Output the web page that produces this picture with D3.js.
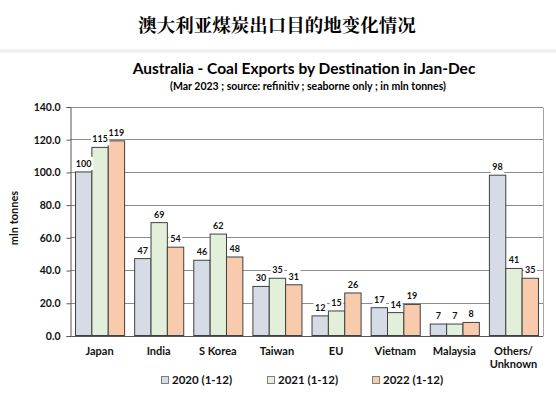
<!DOCTYPE html>
<html>
<head>
<meta charset="utf-8">
<script src="https://cdn.jsdelivr.net/npm/d3@7"></script>
<style>
  html, body { margin: 0; padding: 0; background: #fff; }
  svg { display: block; }
  text { font-family: Lato, "Open Sans", "Liberation Sans", sans-serif; font-weight: 700; fill: #111; }
</style>
</head>
<body>
<svg id="chart" width="556" height="396"></svg>
<script>
const pageTitle = "澳大利亚煤炭出口目的地变化情况";
const chartTitle = "Australia - Coal Exports by Destination in Jan-Dec";
const chartSubtitle = "(Mar 2023 ; source: refinitiv ; seaborne only ; in mln tonnes)";
const yLabel = "mln tonnes";
const categories = ["Japan", "India", "S Korea", "Taiwan", "EU", "Vietnam", "Malaysia", "Others/\nUnknown"];
const seriesNames = ["2020 (1-12)", "2021 (1-12)", "2022 (1-12)"];
const values2020 = [100, 47, 46, 30, 12, 17, 7, 98];
const values2021 = [115, 69, 62, 35, 15, 14, 7, 41];
const values2022 = [119, 54, 48, 31, 26, 19, 8, 35];
const yTicks = [0, 20, 40, 60, 80, 100, 120, 140];
const colors = ["#d6dce5", "#e2efda", "#f8cbad"];

const seriesValues = [values2020, values2021, values2022];
const svg = d3.select("#chart");

// Top Chinese title
svg.append("text")
  .attr("x", 277).attr("y", 32)
  .attr("text-anchor", "middle")
  .style("font-family", "'Noto Serif CJK SC', 'Noto Sans CJK SC', serif")
  .style("font-size", "18.5px")
  .style("font-weight", 700)
  .style("fill", "#000")
  .text(pageTitle);

// faint separator
const defs = svg.append("defs");
const grad = defs.append("linearGradient").attr("id", "sep").attr("x1", 0).attr("y1", 0).attr("x2", 0).attr("y2", 1);
grad.append("stop").attr("offset", "0%").attr("stop-color", "#ffffff");
grad.append("stop").attr("offset", "50%").attr("stop-color", "#ececec");
grad.append("stop").attr("offset", "100%").attr("stop-color", "#ffffff");
svg.append("rect").attr("x", 0).attr("y", 48).attr("width", 556).attr("height", 6).attr("fill", "url(#sep)");

// chart titles
svg.append("text").attr("x", 304).attr("y", 74).attr("text-anchor", "middle")
  .style("font-size", "15.5px").style("fill", "#000").text(chartTitle);
svg.append("text").attr("x", 308).attr("y", 90).attr("text-anchor", "middle")
  .style("font-size", "10.5px").style("fill", "#000").text(chartSubtitle);

const margin = { left: 70, right: 543, top: 106.5, bottom: 335.5 };
const x0 = d3.scaleBand().domain(d3.range(categories.length)).range([margin.left, margin.right]).paddingInner(0.17).paddingOuter(0.085);
const x1 = d3.scaleBand().domain(d3.range(seriesNames.length)).range([0, x0.bandwidth()]);
const y = d3.scaleLinear().domain([0, 140]).range([margin.bottom, margin.top]);

// gridlines
svg.append("g").selectAll("line").data(yTicks.filter(d => d > 0)).join("line")
  .attr("x1", margin.left).attr("x2", margin.right)
  .attr("y1", d => Math.round(y(d)) + 0.5).attr("y2", d => Math.round(y(d)) + 0.5)
  .attr("stroke", "#8c8c8c").attr("stroke-width", 1);
// right border
svg.append("line").attr("x1", margin.right + 0.5).attr("x2", margin.right + 0.5)
  .attr("y1", Math.round(y(140)) + 0.5).attr("y2", Math.round(y(0)) + 0.5)
  .attr("stroke", "#a6a6a6");

// y axis
const yAxis = d3.axisLeft(y).tickValues(yTicks).tickFormat(d3.format(".1f")).tickSize(4).tickPadding(6);
const yg = svg.append("g").attr("transform", `translate(${margin.left + 0.5},0.5)`).call(yAxis);
yg.select(".domain").attr("stroke", "#595959");
yg.selectAll(".tick line").attr("stroke", "#595959");
yg.selectAll(".tick text").style("font-size", "10.5px").style("fill", "#111").style("font-family", "Lato, sans-serif").style("font-weight", 700);

// x baseline
svg.append("line").attr("x1", margin.left).attr("x2", margin.right)
  .attr("y1", Math.round(y(0)) + 0.5).attr("y2", Math.round(y(0)) + 0.5)
  .attr("stroke", "#595959");

// y label
svg.append("text").attr("transform", "translate(18,218) rotate(-90)").attr("text-anchor", "middle")
  .style("font-size", "11px").text(yLabel);

// bars
const groups = svg.append("g").selectAll("g").data(categories).join("g")
  .attr("transform", (d, i) => `translate(${x0(i)},0)`);
groups.selectAll("rect").data((d, i) => seriesValues.map((s, k) => ({ k, v: s[i] }))).join("rect")
  .attr("x", d => x1(d.k) + 0.5)
  .attr("y", d => y(d.v))
  .attr("width", x1.bandwidth())
  .attr("height", d => y(0) - y(d.v))
  .attr("fill", d => colors[d.k])
  .attr("stroke", "#404040").attr("stroke-width", 1);

// data labels with white background
const labelLayer = svg.append("g");
categories.forEach((c, i) => {
  seriesValues.forEach((s, k) => {
    const cx = x0(i) + x1(k) + x1.bandwidth() / 2 + 0.5;
    const t = labelLayer.append("text").attr("x", cx).attr("y", y(s[i]) - 5)
      .attr("text-anchor", "middle").style("font-size", "9px").text(s[i]);
    const bb = t.node().getBBox();
    labelLayer.insert("rect", () => t.node())
      .attr("x", bb.x - 1.5).attr("y", bb.y - 1).attr("width", bb.width + 3).attr("height", bb.height + 2)
      .attr("fill", "#fff");
  });
});

// x labels
categories.forEach((c, i) => {
  const lines = c.split("\n");
  const t = svg.append("text").attr("x", x0(i) + x0.bandwidth() / 2).attr("y", 355)
    .attr("text-anchor", "middle").style("font-size", "11px");
  lines.forEach((l, j) => t.append("tspan").attr("x", x0(i) + x0.bandwidth() / 2).attr("dy", j === 0 ? 0 : 13).text(l));
});

// legend
const legendX = [161, 267, 372];
const lg = svg.append("g").selectAll("g").data(seriesNames).join("g")
  .attr("transform", (d, i) => `translate(${legendX[i]},376)`);
lg.append("rect").attr("x", 0.5).attr("y", 0.5).attr("width", 7).attr("height", 7)
  .attr("fill", (d, i) => colors[i]).attr("stroke", "#7f7f7f");
lg.append("text").attr("x", 11).attr("y", 8).style("font-size", "11.5px").text(d => d);
</script>
</body>
</html>
